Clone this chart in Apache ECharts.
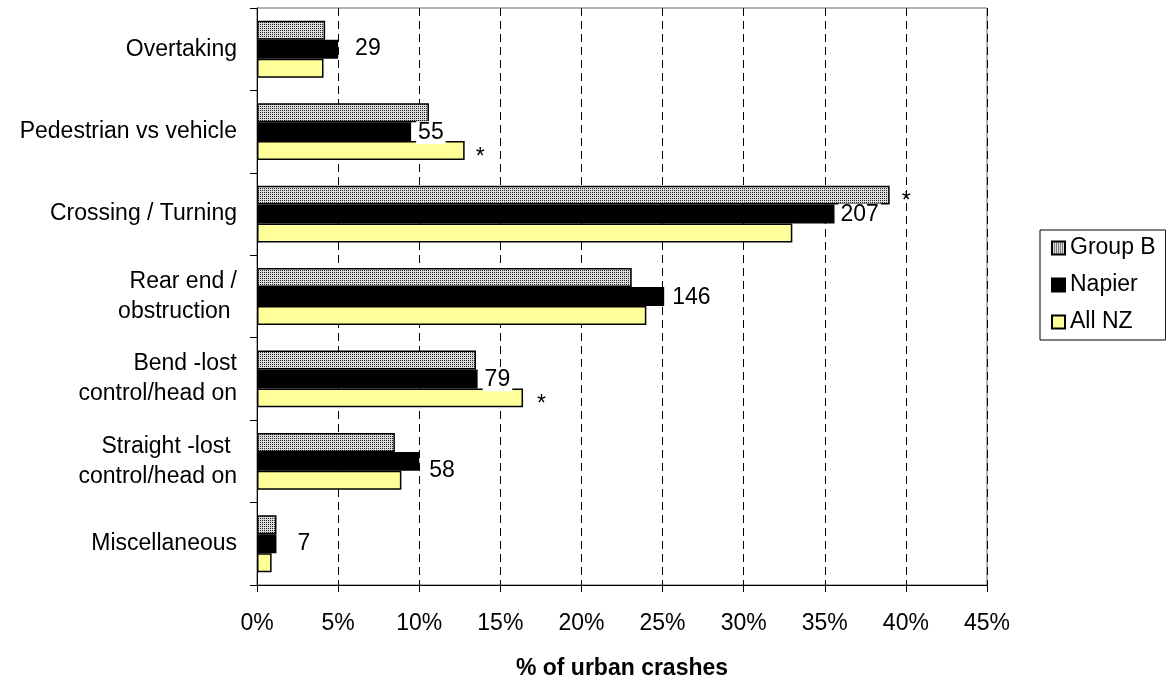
<!DOCTYPE html>
<html>
<head>
<meta charset="utf-8">
<script src="https://cdn.jsdelivr.net/npm/echarts@6/dist/echarts.min.js"></script>
<style>
  html, body { margin: 0; padding: 0; background: #fff; }
  #chart { width: 1166px; height: 680px; }
</style>
</head>
<body>
<div id="chart"></div>
<script>
const categories = [
    'Overtaking',
    'Pedestrian vs vehicle',
    'Crossing / Turning',
    'Rear end /\nobstruction ',
    'Bend -lost\ncontrol/head on',
    'Straight -lost \ncontrol/head on',
    'Miscellaneous'
];
const seriesNames = ['Group B', 'Napier', 'All NZ'];

// % of urban crashes
const groupB = [4.2, 10.6, 39.0, 23.1, 13.5, 8.5, 1.2];
const napier = [5.0, 9.5, 35.6, 25.1, 13.6, 10.0, 1.2];
const allNZ = [4.1, 12.8, 33.0, 24.0, 16.4, 8.9, 0.9];

// crash counts printed next to the Napier bars
const napierCounts = [29, 55, 207, 146, 79, 58, 7];

// significance markers
const groupBStars = ['', '', '*', '', '', '', ''];
const allNZStars = ['', '*', '', '', '*', '', ''];

const xTicks = [0, 5, 10, 15, 20, 25, 30, 35, 40, 45];

// label nudges (pixels), kept apart from the data
const countShiftX = [15, 5, 4, 6, 5, 8, 19];
const countShiftY = [-1, 1, 1, 1, 1, 9, 0];
const groupBStarShiftX = [0, 0, 12, 0, 0, 0, 0];
const allNZStarShiftX = [0, 11, 0, 0, 14, 0, 0];

const FONT = "'Liberation Sans', Arial, sans-serif";

// dotted fill used for Group B
const makeDots = () => {
    const c = document.createElement('canvas');
    c.width = 2;
    c.height = 2;
    const ctx = c.getContext('2d');
    ctx.fillStyle = '#dcdcdc';
    ctx.fillRect(0, 0, 2, 2);
    ctx.fillStyle = '#222';
    ctx.fillRect(0, 0, 1, 1);
    return c;
};

const starData = (values, stars, shiftX) => values.map((v, i) => {
    if (!stars[i]) return v;
    return {
        value: v,
        label: {
            show: true,
            position: 'right',
            distance: 0,
            formatter: stars[i],
            offset: [shiftX[i], 7],
            fontSize: 23,
            fontFamily: FONT,
            color: '#000'
        }
    };
});

const chart = echarts.init(document.getElementById('chart'));

const option = {
    animation: false,
    backgroundColor: '#fff',
    textStyle: { fontFamily: FONT },
    grid: {
        left: 257,
        right: 179,
        top: 8,
        bottom: 95,
        containLabel: false,
        outerBoundsMode: 'none',
        show: true,
        borderColor: '#666',
        borderWidth: 1
    },
    legend: {
        data: seriesNames,
        orient: 'vertical',
        left: 1040,
        top: 230,
        padding: [5, 10, 5, 11],
        itemWidth: 13,
        itemHeight: 13,
        itemGap: 11,
        icon: 'rect',
        borderColor: '#000',
        borderWidth: 1,
        textStyle: {
            fontSize: 23,
            lineHeight: 26,
            color: '#000',
            fontFamily: FONT
        }
    },
    xAxis: {
        type: 'value',
        min: xTicks[0],
        max: xTicks[xTicks.length - 1],
        interval: 5,
        name: '% of urban crashes',
        nameLocation: 'middle',
        nameGap: 72,
        nameTextStyle: {
            fontSize: 23,
            fontWeight: 'bold',
            color: '#000',
            fontFamily: FONT
        },
        axisLine: { show: true, lineStyle: { color: '#000', width: 1 } },
        axisTick: { show: true, length: 7, lineStyle: { color: '#000' } },
        axisLabel: {
            formatter: '{value}%',
            fontSize: 23,
            color: '#000',
            margin: 27
        },
        splitLine: {
            show: true,
            lineStyle: { color: '#000', type: [8, 5], width: 1 }
        }
    },
    yAxis: {
        type: 'category',
        data: categories,
        inverse: true,
        axisLine: { show: true, lineStyle: { color: '#000', width: 1 } },
        axisTick: { show: true, length: 7, lineStyle: { color: '#000' } },
        axisLabel: {
            fontSize: 23,
            lineHeight: 30,
            color: '#000',
            margin: 20,
            align: 'right',
            padding: [5, 0, 0, 0]
        }
    },
    series: [
        {
            name: seriesNames[0],
            type: 'bar',
            data: starData(groupB, groupBStars, groupBStarShiftX),
            barGap: '0%',
            barCategoryGap: '31%',
            itemStyle: {
                color: { image: makeDots(), repeat: 'repeat' },
                borderColor: '#000',
                borderWidth: 1.5
            }
        },
        {
            name: seriesNames[1],
            type: 'bar',
            data: napier,
            barGap: '0%',
            barCategoryGap: '31%',
            itemStyle: {
                color: '#000',
                borderColor: '#000',
                borderWidth: 1.5
            },
            label: {
                show: true,
                position: 'right',
                distance: 0,
                formatter: p => String(napierCounts[p.dataIndex]),
                fontSize: 23,
                color: '#000',
                backgroundColor: '#fff',
                padding: [0, 2, 0, 2]
            },
            labelLayout: p => ({
                dx: countShiftX[p.dataIndex],
                dy: countShiftY[p.dataIndex]
            })
        },
        {
            name: seriesNames[2],
            type: 'bar',
            data: starData(allNZ, allNZStars, allNZStarShiftX),
            barGap: '0%',
            barCategoryGap: '31%',
            itemStyle: {
                color: '#ffff99',
                borderColor: '#000',
                borderWidth: 1.5
            }
        }
    ]
};

chart.setOption(option);
</script>
</body>
</html>
